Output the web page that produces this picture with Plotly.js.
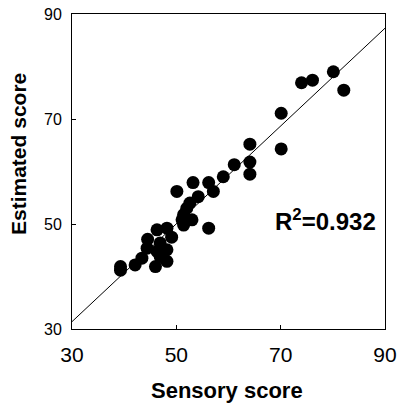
<!DOCTYPE html>
<html><head><meta charset="utf-8">
<script src="https://cdn.plot.ly/plotly-3.0.1.min.js"></script>
<style>html,body{margin:0;padding:0;background:#fff;}#chart{width:399px;height:406px;}</style>
</head><body><div id="chart"></div>
<script>
const sensory = [80.1, 82.1, 74.0, 76.1, 70.1, 70.1, 64.1, 64.1, 64.1, 61.1, 59.0, 56.2, 57.1, 53.2, 50.1, 54.2, 52.6, 52.0, 51.4, 51.1, 53.0, 56.2, 51.4, 48.2, 46.3, 49.1, 44.5, 46.9, 48.2, 46.3, 44.4, 43.4, 48.2, 46.0, 42.1, 39.3, 39.3, 46.9];
const estimated = [79.0, 75.5, 76.9, 77.4, 71.1, 64.3, 65.2, 61.8, 59.5, 61.3, 59.0, 57.9, 56.2, 57.9, 56.2, 55.2, 54.0, 53.0, 51.8, 50.8, 50.8, 49.2, 49.8, 49.2, 48.9, 47.5, 47.1, 46.4, 45.1, 44.8, 45.4, 43.5, 42.9, 41.9, 42.2, 41.9, 41.2, 43.8];
const fitX = [30, 90];
const fitY = [31.4, 87.3];
const tickVals = [30, 50, 70, 90];
const xTitle = "Sensory score";
const yTitle = "Estimated score";
const r2Label = "R<sup>2</sup>=0.932";

const traces = [
  {x: fitX, y: fitY, mode: 'lines', line: {color: '#000', width: 1}, hoverinfo: 'skip'},
  {x: sensory, y: estimated, mode: 'markers', marker: {color: '#000', size: 13}}
];
const layout = {
  width: 399, height: 406,
  margin: {l: 72, r: 14, t: 14, b: 77},
  paper_bgcolor: '#fff', plot_bgcolor: '#fff',
  showlegend: false,
  font: {family: 'Liberation Sans, Arial, sans-serif', color: '#000'},
  xaxis: {
    range: [30, 90], tickvals: tickVals, ticks: 'inside', ticklen: 4, tickcolor: '#000',
    showgrid: false, zeroline: false, showline: true, linecolor: '#000', linewidth: 1, mirror: true,
    tickfont: {size: 21}, ticklabelstandoff: 7
  },
  yaxis: {
    range: [30, 90], tickvals: tickVals, ticks: 'inside', ticklen: 4, tickcolor: '#000',
    showgrid: false, zeroline: false, showline: true, linecolor: '#000', linewidth: 1, mirror: true,
    tickfont: {size: 16}, ticklabelstandoff: 6
  },
  annotations: [
    {x: 88.6, y: 50.8, xref: 'x', yref: 'y', xanchor: 'right', yanchor: 'middle',
     text: '<b>' + r2Label + '</b>', showarrow: false, font: {size: 24, color: '#000'}},
    {x: 227, y: 390, xref: 'paper', yref: 'paper', text: '<b>' + xTitle + '</b>', showarrow: false,
     font: {size: 22, color: '#000'}, xanchor: 'center', yanchor: 'middle'},
    {x: 18, y: 154, xref: 'paper', yref: 'paper', text: '<b>' + yTitle + '</b>', showarrow: false,
     textangle: -90, font: {size: 21, color: '#000'}, xanchor: 'center', yanchor: 'middle'}
  ]
};
// convert pixel positions for title annotations to paper coords
const pw = 399 - 72 - 14, ph = 406 - 14 - 77;
layout.annotations[1].x = (227 - 72) / pw; layout.annotations[1].y = (406 - 77 - 390) / ph;
layout.annotations[2].x = (18 - 72) / pw; layout.annotations[2].y = (406 - 77 - 154) / ph;
Plotly.newPlot('chart', traces, layout, {displayModeBar: false, staticPlot: true});
</script></body></html>
